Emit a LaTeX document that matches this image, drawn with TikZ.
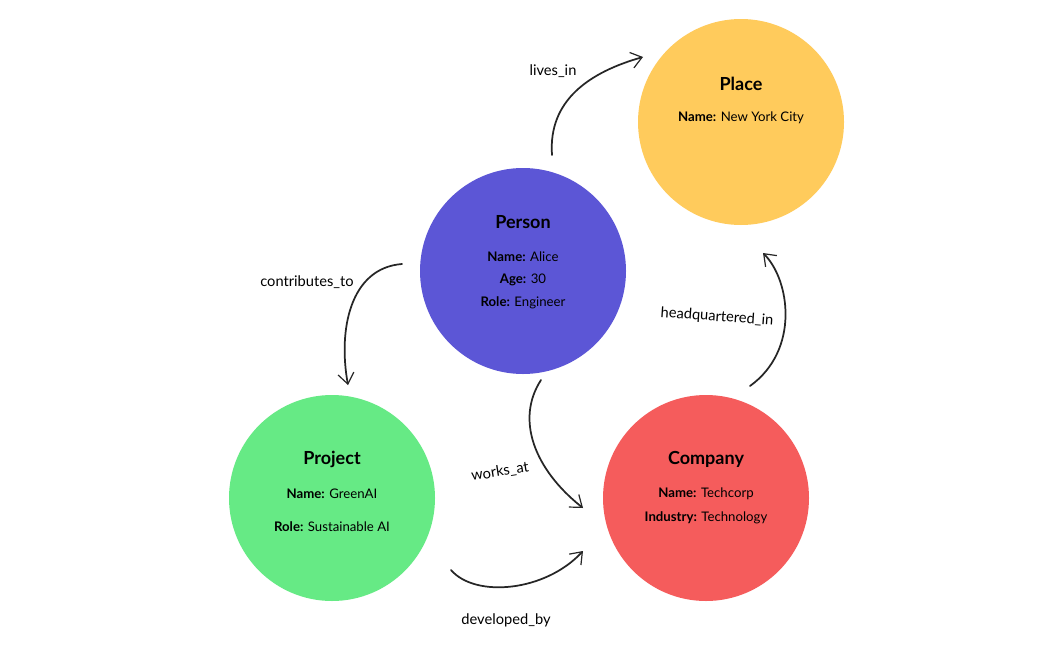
\documentclass[tikz,border=0pt]{standalone}
\usepackage{fontspec}
\setmainfont{Lato}
\usetikzlibrary{arrows.meta}
\definecolor{cperson}{RGB}{92,86,214}
\definecolor{cplace}{RGB}{255,203,92}
\definecolor{cproject}{RGB}{102,234,133}
\definecolor{ccompany}{RGB}{245,92,92}
\tikzset{
  ent/.style={circle,minimum size=154.5pt,inner sep=0pt},
  ttl/.style={font=\fontsize{13.5}{15}\selectfont\bfseries},
  att/.style={font=\fontsize{9.9}{12}\selectfont},
  rel/.style={font=\fontsize{11}{13}\selectfont},
  link/.style={line width=1.3pt,black!85,line cap=round,-{Straight Barb[length=8pt,width=12pt,line width=0.9pt]}}
}
\begin{document}
\begin{tikzpicture}[x=0.75pt,y=-0.75pt]
\useasboundingbox[fill=white] (0,0) rectangle (1045,657);
% circles
\node[ent,fill=cperson] (person) at (523,271) {};
\node[ent,fill=cplace] (place) at (741,122) {};
\node[ent,fill=cproject] (project) at (332,498) {};
\node[ent,fill=ccompany] (company) at (706,498) {};
% texts
\node[ttl] (pt) at (523,222) {Person};
\node[att] (pn) at (523,257) {\textbf{Name:} Alice};
\node[att] (pa) at (523,280) {\textbf{Age:} 30};
\node[att] (pr) at (523,303) {\textbf{Role:} Engineer};
\node[ttl] (lt) at (741,84) {Place};
\node[att] (ln) at (741,118) {\textbf{Name:} New York City};
\node[ttl] (jt) at (332,459) {Project};
\node[att] (jn) at (332,494) {\textbf{Name:} GreenAI};
\node[att] (jr) at (332,527) {\textbf{Role:} Sustainable AI};
\node[ttl] (ct) at (706,459) {Company};
\node[att] (cn) at (706,494) {\textbf{Name:} Techcorp};
\node[att] (ci) at (706,518) {\textbf{Industry:} Technology};
% connector ends
\coordinate (a1) at (552,155); \coordinate (b1) at (643,57);
\coordinate (a2) at (402,264); \coordinate (b2) at (348,385);
\coordinate (a3) at (541,380); \coordinate (b3) at (583,508);
\coordinate (a4) at (750,386); \coordinate (b4) at (763,253);
\coordinate (a5) at (451,570); \coordinate (b5) at (583,551);
\draw[link] (a1) .. controls (548,100) and (590,72) .. (b1);
\draw[link] (a2) .. controls (350,268) and (338,330) .. (b2);
\draw[link] (a3) .. controls (515,420) and (535,470) .. (b3);
\draw[link] (a4) .. controls (800,350) and (790,280) .. (b4);
\draw[link] (a5) .. controls (475,598) and (545,592) .. (b5);
% labels
\node[rel] (l1) at (553,71) {lives\_in};
\node[rel] (l2) at (307,282) {contributes\_to};
\node[rel,rotate=9] (l3) at (500,472) {works\_at};
\node[rel,rotate=-4] (l4) at (717,317) {headquartered\_in};
\node[rel] (l5) at (506,620) {developed\_by};
\end{tikzpicture}
\end{document}
